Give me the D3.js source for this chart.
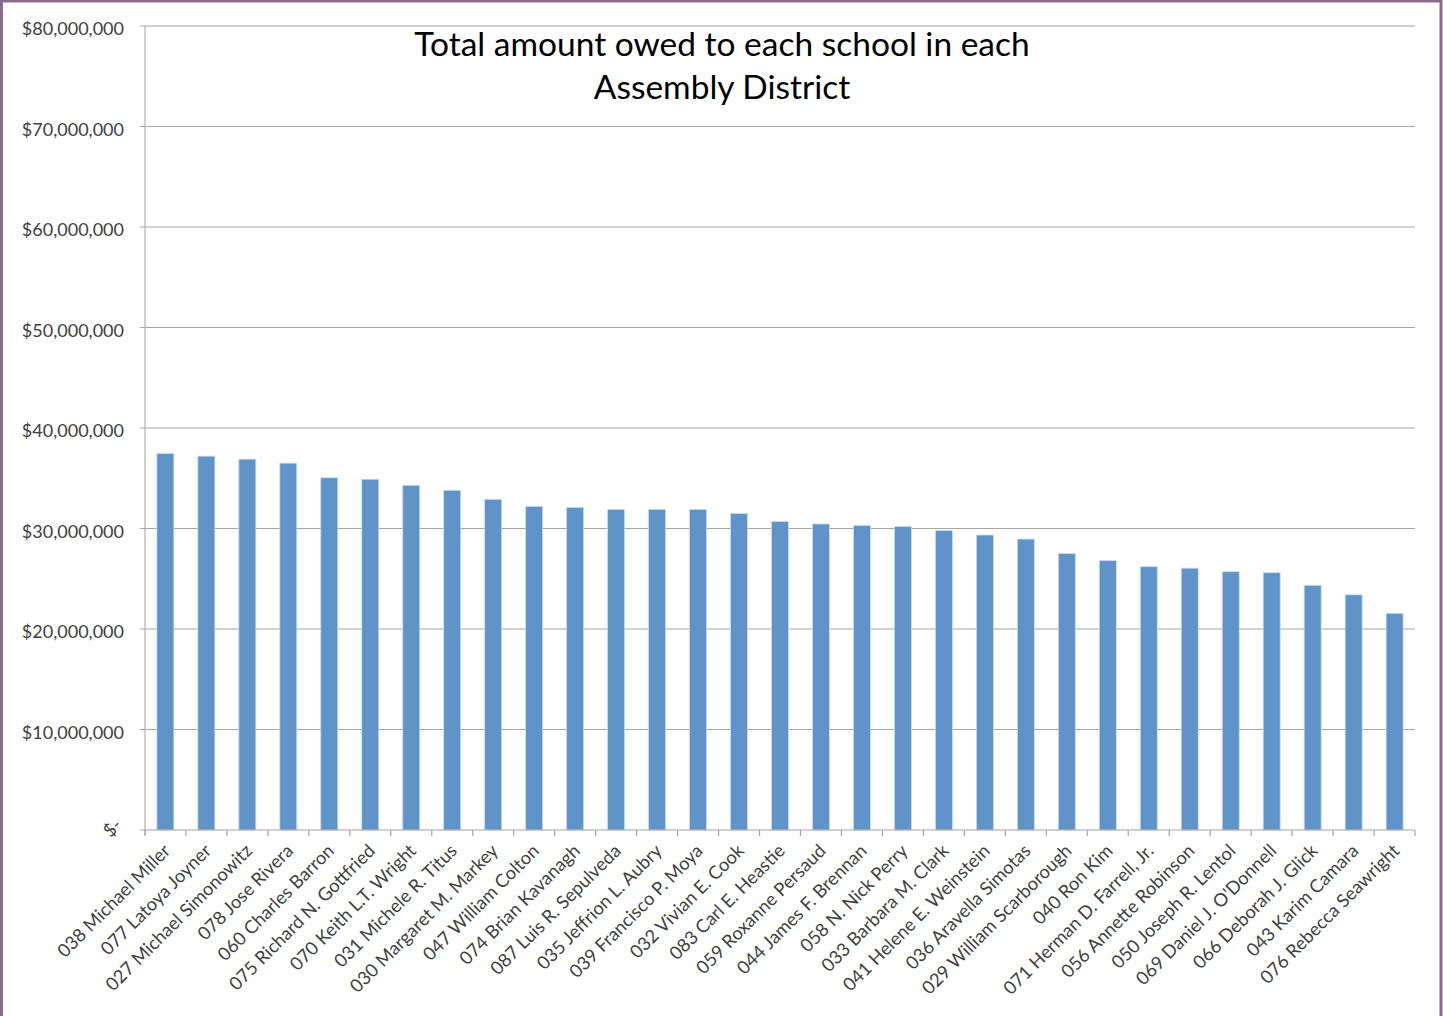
<!DOCTYPE html>
<html><head><meta charset="utf-8">
<script src="https://cdn.jsdelivr.net/npm/d3@7"></script>
<style>
html,body{margin:0;padding:0;background:#fff;}
svg{display:block;}
text{font-family:Lato,"Open Sans",sans-serif;}
</style></head>
<body>
<div id="chart"></div>
<script>
const categories = ["038 Michael Miller","077 Latoya Joyner","027 Michael Simonowitz","078 Jose Rivera","060 Charles Barron","075 Richard N. Gottfried","070 Keith L.T. Wright","031 Michele R. Titus","030 Margaret M. Markey","047 William Colton","074 Brian Kavanagh","087 Luis R. Sepulveda","035 Jeffrion L. Aubry","039 Francisco P. Moya","032 Vivian E. Cook","083 Carl E. Heastie","059 Roxanne Persaud","044 James F. Brennan","058 N. Nick Perry","033 Barbara M. Clark","041 Helene E. Weinstein","036 Aravella Simotas","029 William Scarborough","040 Ron Kim","071 Herman D. Farrell, Jr.","056 Annette Robinson","050 Joseph R. Lentol","069 Daniel J. O'Donnell","066 Deborah J. Glick","043 Karim Camara","076 Rebecca Seawright"];
const amounts = [37460000,37200000,36900000,36500000,35050000,34900000,34300000,33800000,32900000,32200000,32100000,31900000,31900000,31900000,31500000,30700000,30450000,30300000,30200000,29800000,29350000,28950000,27500000,26800000,26200000,26050000,25700000,25600000,24350000,23400000,21560000];
const yTicks = [0,10000000,20000000,30000000,40000000,50000000,60000000,70000000,80000000];
const yTickLabels = ["$-","$10,000,000","$20,000,000","$30,000,000","$40,000,000","$50,000,000","$60,000,000","$70,000,000","$80,000,000"];
const titleLines = ["Total amount owed to each school in each","Assembly District"];

(function(){
const W = 1443, H = 1016;
const svg = d3.select("#chart").append("svg").attr("width", W).attr("height", H);

// border
svg.append("rect").attr("x",1.5).attr("y",1).attr("width",1439.5).attr("height",H+10)
  .attr("fill","none").attr("stroke","#8d6b8f").attr("stroke-width",3);

const mLeft = 145, mRight = 1415, mTop = 26, mBottom = 830;
const x = d3.scaleBand().domain(categories).range([mLeft, mRight]).paddingInner(0.585).paddingOuter(0.29);
const y = d3.scaleLinear().domain([0, 80000000]).range([mBottom, mTop]);

// gridlines
svg.append("g").selectAll("line").data(yTicks.slice(1)).join("line")
  .attr("x1", mLeft-5).attr("x2", mRight).attr("y1", d=>y(d)).attr("y2", d=>y(d))
  .attr("stroke","#a6a6a6").attr("stroke-width",1.2);

// y axis line
svg.append("line").attr("x1",mLeft).attr("x2",mLeft).attr("y1",mTop).attr("y2",mBottom+5)
  .attr("stroke","#b0b0b0").attr("stroke-width",1.2);

// bars
svg.append("g").selectAll("rect").data(amounts).join("rect")
  .attr("x",(d,i)=>x(categories[i])).attr("width",x.bandwidth())
  .attr("y",d=>y(d)).attr("height",d=>y(0)-y(d))
  .attr("fill","#6094c8").attr("stroke","#c9dbef").attr("stroke-width",0.8);

// x axis baseline and ticks
svg.append("line").attr("x1",mLeft-5).attr("x2",mRight).attr("y1",mBottom).attr("y2",mBottom)
  .attr("stroke","#a6a6a6").attr("stroke-width",1.2);
const tickXs = d3.range(categories.length+1).map(i => mLeft + (mRight-mLeft)*i/categories.length);
svg.append("g").selectAll("line").data(tickXs).join("line")
  .attr("x1",d=>d).attr("x2",d=>d).attr("y1",mBottom).attr("y2",mBottom+6)
  .attr("stroke","#a6a6a6").attr("stroke-width",1.2);

// y labels
svg.append("g").selectAll("text").data(yTicks).join("text")
  .attr("x", 124).attr("y", d=>y(d)+9)
  .attr("text-anchor","end").attr("font-size",18).attr("fill","#404040")
  .attr("transform",(d,i)=> i===0 ? `rotate(-45,${108},${y(d)+4})` : null)
  .text((d,i)=>yTickLabels[i]);

// x labels
svg.append("g").selectAll("text").data(categories).join("text")
  .attr("text-anchor","end").attr("font-size",18.3).attr("fill","#404040")
  .attr("transform",d=>`translate(${x(d)+x.bandwidth()/2+6},${mBottom+22}) rotate(-45)`)
  .text(d=>d);

// title
svg.append("g").selectAll("text").data(titleLines).join("text")
  .attr("x",722).attr("y",(d,i)=>56+i*43).attr("text-anchor","middle")
  .attr("font-size",33.5).attr("fill","#000")
  .text(d=>d);
})();
</script>
</body></html>
